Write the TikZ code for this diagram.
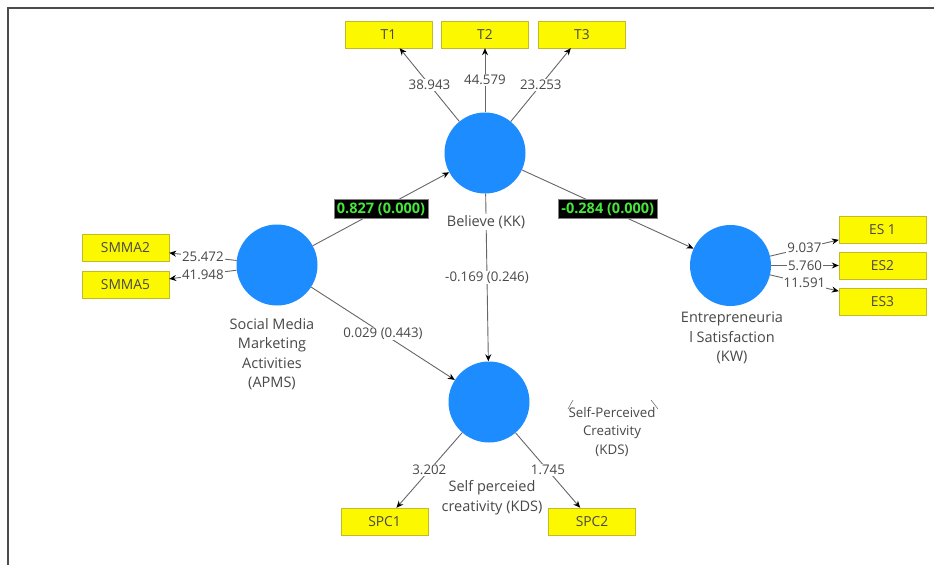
\documentclass[tikz,border=0pt]{standalone}
\usepackage{fontspec}
\setmainfont{Open Sans}
\usetikzlibrary{arrows.meta}
\definecolor{lvblue}{RGB}{28,140,255}
\definecolor{mvyellow}{RGB}{252,248,0}
\definecolor{mvedge}{RGB}{196,186,40}
\definecolor{sigreen}{RGB}{70,230,60}
\definecolor{inkgray}{RGB}{72,72,72}
\tikzstyle{frame} = [line width=2pt,black!70]
\tikzstyle{latent} = [circle,fill=lvblue,minimum size=81pt,inner sep=0pt]
\tikzstyle{indicator} = [rectangle,draw=mvedge,fill=mvyellow,minimum width=87pt,minimum height=27pt,
  inner sep=0pt,text=inkgray,font=\fontsize{13.8}{15}\selectfont]
\tikzstyle{arrow} = [draw=black!60,line width=0.9pt,-{Stealth[length=7pt,width=6pt,black]}]
\tikzstyle{weight} = [fill=white,inner sep=1pt,text=inkgray,font=\fontsize{13.3}{15}\selectfont]
\tikzstyle{sig} = [fill=black,draw=black!50,inner xsep=3pt,inner ysep=3pt,text=sigreen,font=\bfseries\fontsize{14.5}{15}\selectfont]
\tikzstyle{lvname} = [fill=white,inner sep=1pt,align=center,text=inkgray,font=\fontsize{14.5}{19.5}\selectfont]

\begin{document}
\begin{tikzpicture}[x=1pt,y=-1pt]
	\useasboundingbox (0,0) rectangle (934,565);

	% frame, only top and left edge
	\draw[frame] (7.5,565) -- (7.5,7.5) -- (934,7.5);

	% latent variables
	\node[latent] (APMS) at (277,265) {};
	\node[latent] (KK) at (485,153) {};
	\node[latent] (KW) at (730.5,265.5) {};
	\node[latent] (KDS) at (489,402) {};

	% indicators
	\node[indicator] (T1) at (388.5,34.5) {T1};
	\node[indicator] (T2) at (485,34.5) {T2};
	\node[indicator] (T3) at (582,34.5) {T3};
	\node[indicator] (SMMA2) at (125.5,248) {SMMA2};
	\node[indicator] (SMMA5) at (125.5,284.5) {SMMA5};
	\node[indicator] (ES1) at (882.5,229.5) {ES 1};
	\node[indicator] (ES2) at (882.5,265.5) {ES2};
	\node[indicator] (ES3) at (882.5,301.5) {ES3};
	\node[indicator] (SPC1) at (384.5,521.5) {SPC1};
	\node[indicator] (SPC2) at (592,521.5) {SPC2};

	% outer model
	\draw[arrow] (KK) -- (T1) node[midway,weight] {38.943};
	\draw[arrow] (KK) -- (T2) node[midway,weight] {44.579};
	\draw[arrow] (KK) -- (T3) node[midway,weight] {23.253};
	\draw[arrow] (APMS) -- (SMMA2) node[midway,weight] {25.472};
	\draw[arrow] (APMS) -- (SMMA5) node[midway,weight] {41.948};
	\draw[arrow] (KW) -- (ES1) node[midway,weight] {9.037};
	\draw[arrow] (KW) -- (ES2) node[midway,weight] {5.760};
	\draw[arrow] (KW) -- (ES3) node[midway,weight] {11.591};
	\draw[arrow] (KDS) -- (SPC1) node[midway,weight] {3.202};
	\draw[arrow] (KDS) -- (SPC2) node[midway,weight] {1.745};

	% inner model
	\draw[arrow] (APMS) -- (KK) node[midway,sig] {0.827 (0.000)};
	\draw[arrow] (KK) -- (KW) node[midway,sig] {-0.284 (0.000)};
	\draw[arrow] (KK) -- (KDS) node[midway,weight] {-0.169 (0.246)};
	\draw[arrow] (APMS) -- (KDS) node[midway,weight] {0.029 (0.443)};

	% construct names
	\node[lvname] (KKname) at (486,222) {Believe (KK)};
	\node[lvname] (APMSname) at (272,354) {Social Media\\Marketing\\Activities\\(APMS)};
	\node[lvname] (KWname) at (732,338) {Entrepreneuria\\l Satisfaction\\(KW)};
	\node[lvname] (KDSname) at (492,497.5) {Self perceied\\creativity (KDS)};
	\node[lvname,font=\fontsize{13.3}{18.5}\selectfont] (KDSalt) at (612,431.5) {Self-Perceived\\Creativity\\(KDS)};
	\draw[black!55,line width=0.6pt] (568,409) -- (573,400);
	\draw[black!55,line width=0.6pt] (651,400) -- (658,409);
\end{tikzpicture}
\end{document}
